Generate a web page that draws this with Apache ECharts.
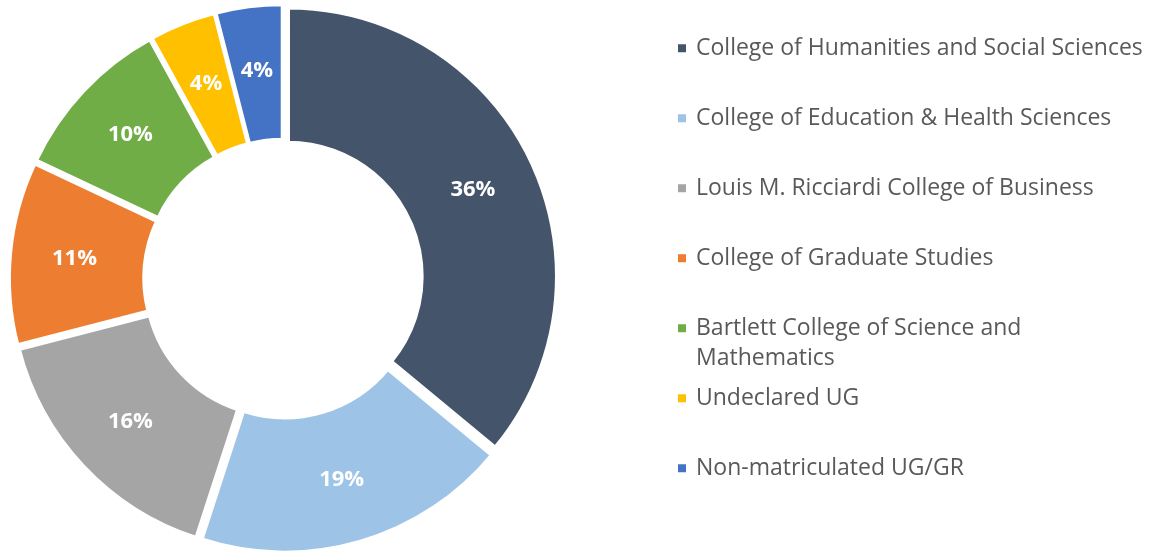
<!DOCTYPE html>
<html>
<head>
<meta charset="utf-8">
<title>Enrollment by College</title>
<script src="https://cdn.jsdelivr.net/npm/echarts@6/dist/echarts.min.js"></script>
<style>
  html, body { margin: 0; padding: 0; background: #ffffff; }
  #chart { width: 1159px; height: 552px; }
</style>
</head>
<body>
<div id="chart"></div>
<script>
// Share of enrollment by college (percent)
const categories = [
  'College of Humanities and Social Sciences',
  'College of Education & Health Sciences',
  'Louis M. Ricciardi College of Business',
  'College of Graduate Studies',
  'Bartlett College of Science and Mathematics',
  'Undeclared UG',
  'Non-matriculated UG/GR'
];
const shares = [36, 19, 16, 11, 10, 4, 4];
const colors = ['#44546A', '#9DC3E6', '#A5A5A5', '#ED7D31', '#70AD47', '#FFC000', '#4472C4'];

// Legend labels: the long Bartlett name wraps onto a second line
const legendText = {
  'Bartlett College of Science and Mathematics': 'Bartlett College of Science and\nMathematics'
};

const FONT = '"Open Sans", Lato, sans-serif';
const BORDER = 3.6;

const chart = echarts.init(document.getElementById('chart'), null, { renderer: 'canvas' });

const pieData = categories.map((name, i) => ({
  name: name,
  value: shares[i],
  selected: true,
  itemStyle: { color: colors[i] },
  select: { itemStyle: { color: colors[i], borderColor: '#ffffff', borderWidth: BORDER } }
}));

// One legend block per entry so every row sits on a fixed 70px pitch.
// A wrapped entry gets a blank leading line so its first line lines up
// with the marker (the text block is centred on the marker).
const ROW0 = 48.3, PITCH = 70, LINE = 30;
const legends = categories.map((name, i) => {
  const wrapped = legendText[name] !== undefined;
  const lines = wrapped ? 3 : 1;
  const boxH = lines * LINE;
  return {
    orient: 'vertical',
    left: 676,
    top: ROW0 + PITCH * i - boxH / 2,
    padding: 0,
    itemWidth: 10,
    itemHeight: 10,
    icon: 'rect',
    selectedMode: false,
    formatter: n => (legendText[n] ? '\n' + legendText[n] : n),
    textStyle: {
      fontFamily: FONT,
      fontSize: 23,
      color: '#595959',
      lineHeight: LINE,
      padding: [0, 0, 0, 4]
    },
    data: [name]
  };
});

chart.setOption({
  animation: false,
  backgroundColor: '#ffffff',
  legend: legends,
  series: [{
    type: 'pie',
    center: [283.2, 278.6],
    radius: [133.7, 268.6],
    startAngle: 90,
    clockwise: true,
    selectedMode: 'multiple',
    selectedOffset: 5.5,
    avoidLabelOverlap: false,
    itemStyle: { borderColor: '#ffffff', borderWidth: BORDER },
    emphasis: { disabled: true },
    label: {
      show: true,
      position: 'inside',
      formatter: '{c}%',
      color: '#ffffff',
      fontFamily: FONT,
      fontWeight: 'bold',
      fontSize: 22
    },
    labelLine: { show: false },
    data: pieData
  }]
});
</script>
</body>
</html>
